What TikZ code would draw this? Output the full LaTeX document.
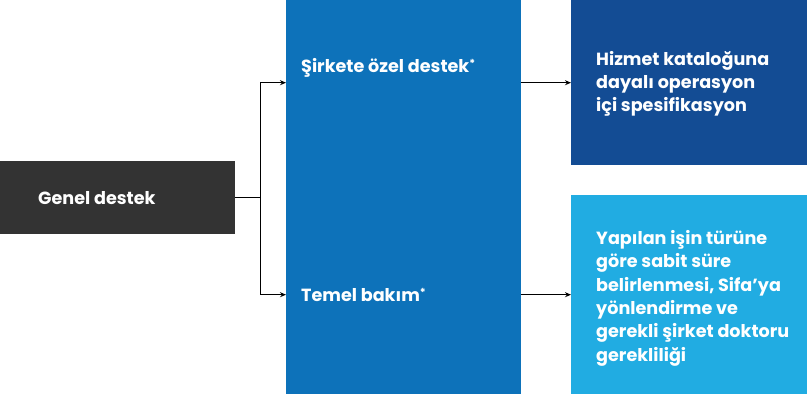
\documentclass[tikz,border=0pt]{standalone}
\usepackage{fontspec}
\setmainfont{Poppins}
\usetikzlibrary{positioning, arrows.meta, calc}
\definecolor{koyugri}{HTML}{333333}
\definecolor{ortamavi}{HTML}{0D72BA}
\definecolor{lacivert}{HTML}{134C94}
\definecolor{acikmavi}{HTML}{21ACE2}
\newcommand{\yildiz}{\raisebox{0.3em}{\fontsize{11}{11}\selectfont*}}

\begin{document}
\begin{tikzpicture}[x=1pt, y=1pt,
		kutu/.style={rectangle, inner sep=0pt, anchor=north west},
		yazi/.style={text=white, font=\fontsize{17.6}{23.3}\selectfont\bfseries, align=left, inner sep=0pt, anchor=west},
		ok/.style={line width=1.1pt, -{Stealth[length=6pt, width=5pt]}},
		cizgi/.style={line width=1.1pt}]
		% Fix the page to the reference size
		\useasboundingbox (0,0) rectangle (807,394);
		
		% 1. Boxes
		\node[kutu, fill=koyugri, minimum width=235, minimum height=73] (genel) at (0,233) {};
		\node[kutu, fill=ortamavi, minimum width=235, minimum height=394] (destek) at (286,394) {};
		\node[kutu, fill=lacivert, minimum width=236, minimum height=165] (katalog) at (571,394) {};
		\node[kutu, fill=acikmavi, minimum width=236, minimum height=199] (sure) at (571,199) {};
		
		% 2. Texts
		\node[yazi] (genelyazi) at ([xshift=38]genel.west) {Genel destek};
		\node[yazi] (ozel) at (301,326) {Şirkete özel destek\yildiz};
		\node[yazi] (temel) at (301,99) {Temel bakım\yildiz};
		\node[yazi] (katalogyazi) at ([xshift=25, yshift=-1]katalog.west)
			{Hizmet kataloğuna\\dayalı operasyon\\içi spesifikasyon};
		\node[yazi] (sureyazi) at ([xshift=25, yshift=-3.5]sure.west)
			{Yapılan işin türüne\\göre sabit süre\\belirlenmesi, Sifa’ya\\yönlendirme ve\\gerekli şirket doktoru\\gerekliliği};
		
		% 3. Connectors
		\coordinate (kol) at ($(genel.east)+(25,0)$);
		\draw[cizgi] (genel.east) -- (kol);
		\draw[ok] (kol) |- (destek.west |- katalog.west);
		\draw[ok] (kol) |- (destek.west |- sure.west);
		\draw[ok] (destek.east |- katalog.west) -- (katalog.west);
		\draw[ok] (destek.east |- sure.west) -- (sure.west);
		
	\end{tikzpicture}
\end{document}
